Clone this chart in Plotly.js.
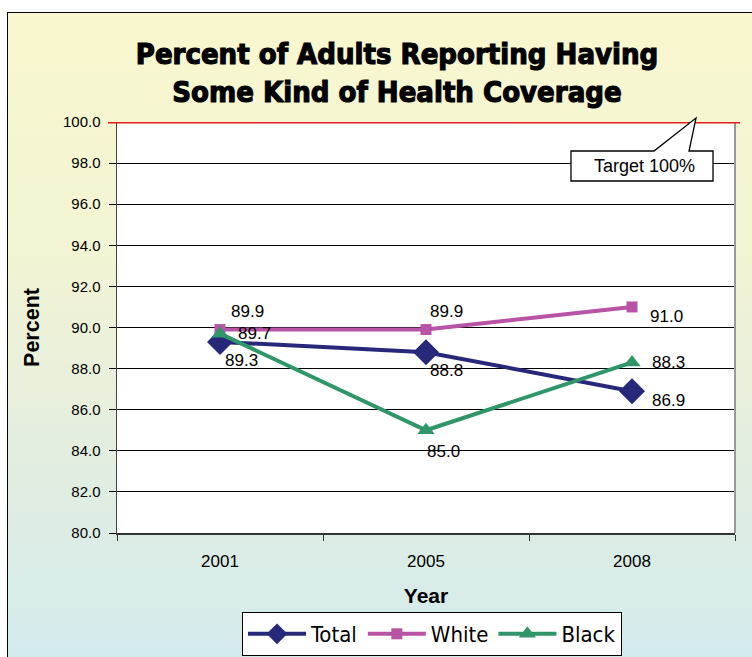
<!DOCTYPE html>
<html>
<head>
<meta charset="utf-8">
<script src="https://cdn.plot.ly/plotly-3.0.1.min.js"></script>
<style>
html,body{margin:0;padding:0;background:#fff;width:752px;height:657px;overflow:hidden;}
#frame{position:absolute;left:7px;top:12px;width:760px;height:660px;border:1px solid #000;
background:linear-gradient(to bottom,#F8F7CF 0%,#F3F4D3 35%,#E4EEDF 65%,#D2EAEE 100%);}
#chart{position:absolute;left:0;top:0;width:752px;height:657px;}
#chart .gtitle{stroke:#000;stroke-width:1.1px;}
</style>
</head>
<body>
<div id="frame"></div>
<div id="chart"></div>
<script>
const years = ['2001', '2005', '2008'];
const totalVals = [89.3, 88.8, 86.9];
const whiteVals = [89.9, 89.9, 91.0];
const blackVals = [89.7, 85.0, 88.3];
const targetVal = 100;
const yTicks = [80, 82, 84, 86, 88, 90, 92, 94, 96, 98, 100];

// label offsets in pixels [xshift, yshift]
const totalOff = [[21,-19],[20,-18],[36,-9]];
const whiteOff = [[27,18],[20,18],[34,-10]];
const blackOff = [[34,0],[17,-21],[36,0]];

const colors = {Total:'#28287A', White:'#B853A6', Black:'#2E9668'};
const sansFont = 'Liberation Sans, Arial, sans-serif';
const narrowFont = 'DejaVu Sans Condensed, Liberation Sans Narrow, sans-serif';

const traces = [
  {x: years, y: totalVals, name: 'Total', type:'scatter', mode:'lines+markers',
   line:{color:colors.Total, width:4}, marker:{symbol:'diamond', size:20, color:colors.Total}},
  {x: years, y: whiteVals, name: 'White', type:'scatter', mode:'lines+markers',
   line:{color:colors.White, width:4}, marker:{symbol:'square', size:11, color:colors.White}},
  {x: years, y: blackVals, name: 'Black', type:'scatter', mode:'lines+markers',
   line:{color:colors.Black, width:4}, marker:{symbol:'triangle-up', size:15, color:colors.Black}}
];

const annotations = [];
function addLabels(vals, off){
  vals.forEach((v,i)=>{
    annotations.push({x: i, y: v, xref:'x', yref:'y', text: v.toFixed(1), showarrow:false,
      xanchor:'center', yanchor:'middle',
      xshift: off[i][0], yshift: off[i][1], font:{family:sansFont, size:17, color:'#000'}});
  });
}
addLabels(totalVals, totalOff);
addLabels(whiteVals, whiteOff);
addLabels(blackVals, blackOff);

const L=117, R=735, T=122, B=533;
const px = v => (v-L)/(R-L);
const py = v => (B-v)/(B-T);
annotations.push({xref:'paper', yref:'paper', x:px(644), y:py(166), xanchor:'center', yanchor:'middle',
  text:'Target 100%', showarrow:false, font:{family:sansFont, size:18, color:'#000'}});

const calloutPts = [[571,151],[654,151],[696,118],[689,151],[713,151],[713,181],[571,181]];
const calloutPath = 'M ' + calloutPts.map(p=>px(p[0]).toFixed(4)+','+py(p[1]).toFixed(4)).join(' L ') + ' Z';

const shapes = [
  {type:'line', xref:'paper', yref:'paper', x0:1, x1:1, y0:0, y1:1, line:{color:'#999', width:2}},
  {type:'line', xref:'paper', yref:'y', x0:px(108), x1:px(740), y0:targetVal, y1:targetVal, line:{color:'#E41E1E', width:3}},
  {type:'path', xref:'paper', yref:'paper', path: calloutPath, fillcolor:'#fff', line:{color:'#000', width:1.3}}
];

const layout = {
  width:752, height:657,
  margin:{l:117, r:17, t:122, b:124, autoexpand:false},
  paper_bgcolor:'rgba(0,0,0,0)', plot_bgcolor:'#fff',
  title:{text:'<b>Percent of Adults Reporting Having<br>Some Kind of Health Coverage</b>',
    font:{family:narrowFont, size:29, color:'#000'},
    xref:'container', x:397/752, xanchor:'center', yref:'container', y:1-64/657, yanchor:'top'},
  xaxis:{type:'category', range:[-0.5,2.5], tickson:'boundaries', ticks:'outside', ticklen:6, tickcolor:'#333',
    showline:true, linecolor:'#333', linewidth:1.5, showgrid:false, zeroline:false, ticklabelstandoff:12,
    tickfont:{family:sansFont, size:17, color:'#000'},
    title:{text:'<b>Year</b>', font:{family:sansFont, size:21, color:'#000'}, standoff:18}},
  yaxis:{range:[80,100], tickvals:yTicks, tickformat:'.1f', ticks:'outside', ticklen:7, tickcolor:'#000',
    showline:true, linecolor:'#444', linewidth:1.5, showgrid:true, gridcolor:'#000', gridwidth:1, zeroline:false,
    ticklabelstandoff:5,
    tickfont:{family:sansFont, size:15, color:'#000'},
    title:{text:'<b>Percent</b>', font:{family:sansFont, size:21.5, color:'#000'}, standoff:17}},
  showlegend:true,
  legend:{orientation:'h', xref:'paper', yref:'paper', x:px(432), xanchor:'center', y:py(612), yanchor:'top',
    bgcolor:'#fff', bordercolor:'#000', borderwidth:1, itemwidth:58,
    font:{family:narrowFont, size:22, color:'#000'}},
  annotations: annotations,
  shapes: shapes
};

Plotly.newPlot('chart', traces, layout, {displayModeBar:false, staticPlot:true});
</script>
</body>
</html>
